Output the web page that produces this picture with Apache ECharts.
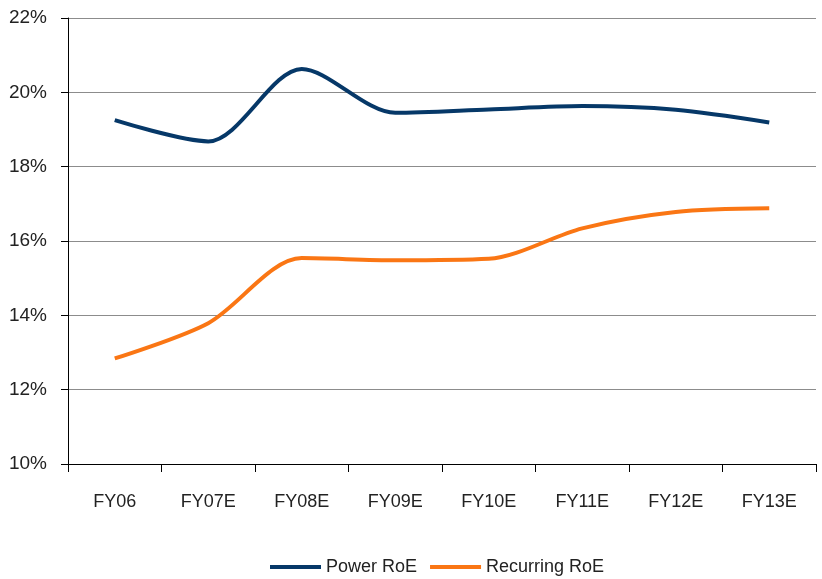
<!DOCTYPE html>
<html>
<head>
<meta charset="utf-8">
<script src="https://cdn.jsdelivr.net/npm/echarts@6/dist/echarts.min.js"></script>
<style>
    html, body {margin: 0; padding: 0; background: #fff;}
    #div_roe {width: 822px; height: 579px;}
</style>
</head>
<body>
<div id="div_roe"></div>
<script>
var years = ['FY06', 'FY07E', 'FY08E', 'FY09E', 'FY10E', 'FY11E', 'FY12E', 'FY13E'];
var powerRoe = [19.25, 18.68, 20.63, 19.45, 19.54, 19.63, 19.53, 19.19];
var recurringRoe = [12.84, 13.79, 15.54, 15.48, 15.52, 16.34, 16.78, 16.88];
var yTicks = {min: 10, max: 22, interval: 2};

function initRoeChart() {
    var font = '"Liberation Sans", Arial, sans-serif';
    var option = {
        animation: false,
        grid: {
            left: 68,
            right: 6,
            top: 18,
            bottom: 115
        },
        legend: {
            top: 553,
            left: 265,
            icon: 'rect',
            itemWidth: 51,
            itemHeight: 4,
            itemGap: 13,
            textStyle: {fontFamily: font, fontSize: 18, color: '#222'},
            data: ['Power RoE', 'Recurring RoE']
        },
        xAxis: [
            {
                type: 'category',
                boundaryGap: true,
                data: years,
                axisLine: {lineStyle: {color: '#000', width: 1}},
                axisTick: {show: true, length: 8, lineStyle: {color: '#000'}},
                axisLabel: {fontFamily: font, fontSize: 18, color: '#222', margin: 29}
            }
        ],
        yAxis: [
            {
                type: 'value',
                min: yTicks.min,
                max: yTicks.max,
                interval: yTicks.interval,
                axisLine: {show: true, lineStyle: {color: '#000', width: 1}},
                axisTick: {show: true, length: 7, lineStyle: {color: '#000'}},
                axisLabel: {fontFamily: font, fontSize: 19, color: '#222', margin: 21, formatter: '{value}%'},
                splitLine: {show: true, lineStyle: {color: '#8c8c8c', width: 1}}
            }
        ],
        series: [
            {
                name: 'Power RoE',
                type: 'line',
                data: powerRoe,
                smooth: 0.3,
                showSymbol: false,
                lineStyle: {color: '#063868', width: 4},
                itemStyle: {color: '#063868'}
            },
            {
                name: 'Recurring RoE',
                type: 'line',
                data: recurringRoe,
                smooth: 0.3,
                showSymbol: false,
                lineStyle: {color: '#fa7614', width: 4},
                itemStyle: {color: '#fa7614'}
            }
        ]
    };
    var roeChart = echarts.init(document.getElementById('div_roe'));
    roeChart.setOption(option);
}

initRoeChart();
</script>
</body>
</html>
